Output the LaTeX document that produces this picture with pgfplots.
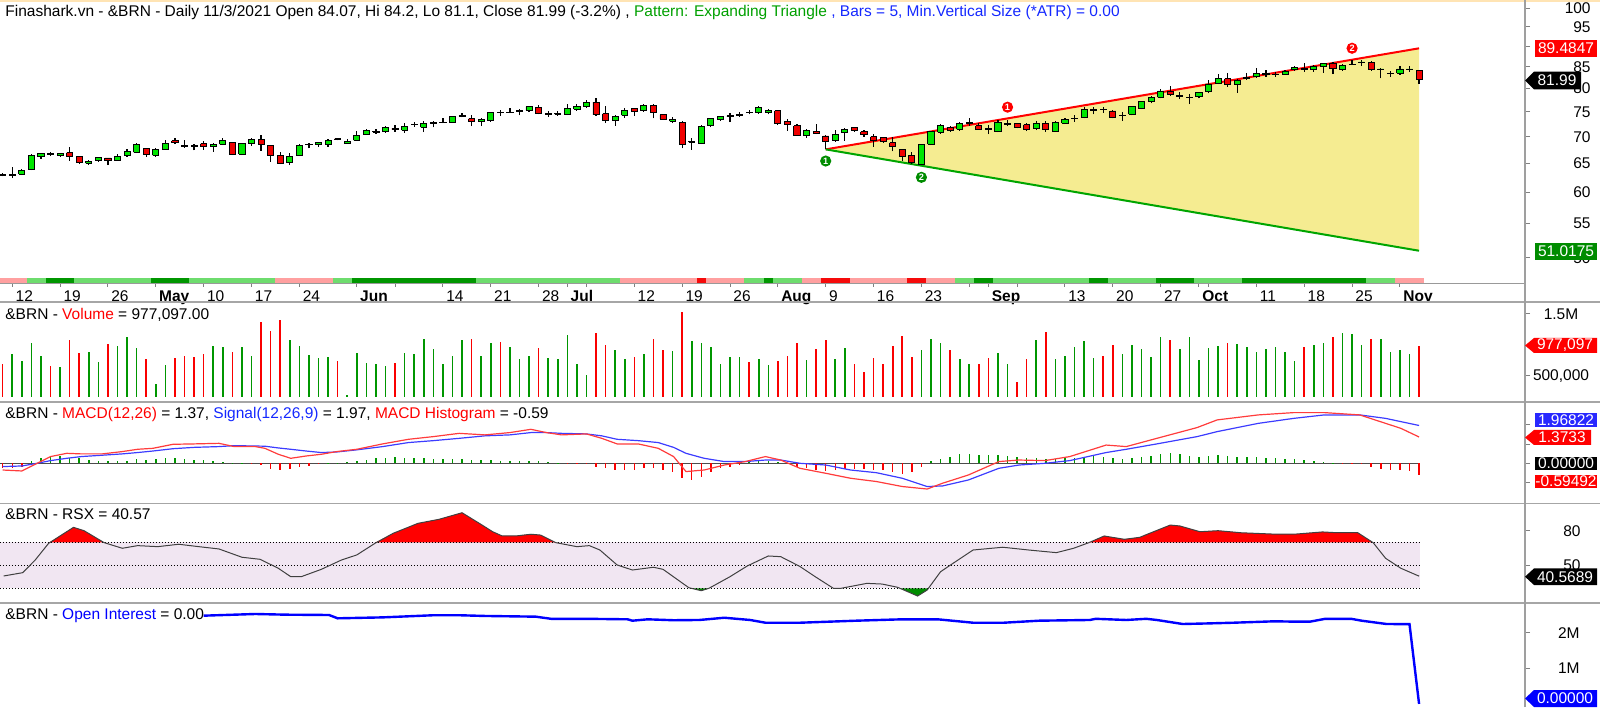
\documentclass[border=0pt]{standalone}
\usepackage{pgfplots}
\pgfplotsset{compat=1.18}
\usepackage{pgfplotstable}
\usepackage{fontspec}
\setmainfont{Liberation Sans}
\newcommand\lbl{\fontsize{7.75}{9}\selectfont}
\definecolor{upc}{RGB}{0,230,0}
\definecolor{dnc}{RGB}{240,0,0}
\definecolor{vgreen}{RGB}{0,150,0}
\definecolor{vred}{RGB}{250,0,0}
\definecolor{yel}{RGB}{245,236,145}
\definecolor{triG}{RGB}{0,165,0}
\definecolor{pinkc}{RGB}{255,160,160}
\definecolor{redc}{RGB}{245,10,10}
\definecolor{lgc}{RGB}{110,220,110}
\definecolor{dgc}{RGB}{0,150,0}
\definecolor{macdr}{RGB}{255,60,60}
\definecolor{macdb}{RGB}{60,60,255}
\definecolor{lav}{RGB}{241,230,242}
\definecolor{rsxg}{RGB}{0,140,0}
\definecolor{oiblue}{RGB}{0,0,255}
\definecolor{ptgreen}{RGB}{0,160,0}
\definecolor{ptblue}{RGB}{20,40,255}
\definecolor{tagblue}{RGB}{40,40,255}
\definecolor{taggreen}{RGB}{0,140,0}

\pgfplotstableread{
i o h l c v
0 63.1 63.3 62.7 62.9 694000
1 62.95 64.3 62.4 63.0 850000
2 63.1 64.1 62.95 63.7 742000
3 64.0 66.7 63.8 66.4 1027000
4 66.2 66.9 65.9 66.8 823000
5 66.75 67.1 66.4 66.65 661000
6 66.5 67.0 66.2 66.9 650000
7 67.0 68.1 65.5 66.3 1080000
8 66.2 66.3 64.9 65.1 876000
9 65.0 65.7 64.7 65.45 882000
10 65.5 66.2 65.3 66.05 721000
11 66.0 66.05 64.7 65.6 1010000
12 65.6 66.75 65.5 66.35 989000
13 66.4 67.6 66.2 67.2 1124000
14 67.05 68.9 66.9 68.55 947000
15 67.8 67.9 66.2 66.6 769000
16 66.5 67.8 66.2 67.6 371000
17 67.6 69.35 67.5 68.8 683000
18 69.25 69.8 68.6 68.86 790000
19 68.4 69.35 67.9 68.06 818000
20 68.25 68.55 67.4 68.15 806000
21 68.7 69.15 67.5 68.1 850000
22 68.1 68.85 67.15 68.6 984000
23 68.55 69.8 68.4 69.25 973000
24 68.9 69.05 66.55 66.7 887000
25 66.7 68.9 66.55 68.7 963000
26 68.7 69.7 68.25 69.45 823000
27 69.5 70.4 67.35 68.6 1366000
28 68.35 68.45 65.3 66.55 1226000
29 66.55 67.05 64.9 65.0 1403000
30 65.1 66.9 64.7 66.35 1081000
31 66.5 68.6 66.4 68.4 989000
32 68.45 68.9 67.8 68.55 839000
33 68.5 69.05 68.05 68.85 785000
34 68.55 69.5 68.1 69.25 801000
35 69.65 69.85 69.3 69.55 742000
36 68.75 69.5 68.7 69.1 189000
37 69.3 71.2 69.25 70.2 866000
38 70.5 71.45 70.35 71.2 715000
39 70.95 71.6 70.55 71.05 694000
40 71.0 72.1 70.75 71.85 667000
41 71.7 72.3 71.0 71.35 710000
42 71.3 72.7 70.75 72.1 866000
43 72.35 72.85 71.95 72.45 855000
44 71.85 73.1 70.9 72.6 1097000
45 72.65 73.2 71.85 72.75 935000
46 72.8 73.7 72.7 72.9 694000
47 72.85 74.25 72.85 74.05 823000
48 74.15 74.8 73.9 74.25 1086000
49 73.6 74.3 72.1 72.95 1100000
50 72.95 73.7 72.1 73.5 823000
51 73.2 75.0 73.0 74.9 1032000
52 74.9 75.4 74.2 74.8 1054000
53 74.8 75.9 74.75 74.9 963000
54 75.15 75.65 74.3 75.25 779000
55 75.4 76.3 74.95 76.1 823000
56 76.0 76.5 74.5 74.6 947000
57 74.55 75.3 74.0 74.65 790000
58 74.55 75.3 74.2 74.7 769000
59 74.5 76.65 74.35 75.75 1156000
60 75.55 76.65 75.2 76.25 694000
61 76.1 77.55 75.8 77.1 511000
62 77.1 77.95 74.2 74.4 1189000
63 74.6 76.2 72.7 73.2 1005000
64 73.35 74.3 72.2 74.0 919000
65 74.3 75.75 73.8 75.4 769000
66 75.7 75.75 74.2 75.1 806000
67 75.25 76.65 75.0 76.4 855000
68 76.3 76.6 73.7 74.85 1097000
69 74.4 74.6 73.35 73.5 914000
70 73.1 73.9 72.7 73.5 903000
71 72.8 73.2 67.8 68.6 1527000
72 69.0 69.7 67.5 69.1 1060000
73 68.7 72.3 68.6 72.1 1032000
74 72.2 73.7 71.85 73.6 963000
75 73.5 74.2 73.1 74.0 694000
76 74.0 74.7 72.9 74.25 806000
77 74.35 74.9 74.0 74.45 812000
78 74.95 75.4 74.5 74.85 726000
79 74.8 76.25 74.6 76.0 779000
80 74.8 75.6 74.5 75.4 683000
81 75.25 75.4 72.3 72.7 747000
82 73.0 73.5 71.2 72.5 823000
83 72.15 72.5 70.15 70.35 1027000
84 70.2 71.45 69.8 71.3 758000
85 71.0 72.5 70.5 70.7 935000
86 70.15 70.35 67.6 69.05 1081000
87 69.2 71.35 69.05 70.5 774000
88 70.8 71.8 69.25 71.45 952000
89 71.8 72.0 70.95 71.3 698000
90 71.0 71.35 70.0 70.5 565000
91 70.0 70.5 68.1 69.3 795000
92 69.8 70.0 68.85 69.05 688000
93 68.85 70.0 67.2 68.1 979000
94 67.5 67.6 65.5 66.35 1150000
95 66.55 67.05 64.9 65.15 812000
96 64.85 68.7 64.7 68.6 919000
97 68.55 71.1 68.4 71.0 1092000
98 70.95 72.45 70.6 72.2 1037000
99 71.85 72.1 70.95 71.2 919000
100 71.45 72.9 71.2 72.7 769000
101 72.65 73.7 72.1 72.75 688000
102 72.15 72.7 71.35 71.5 688000
103 71.6 72.3 70.5 71.5 785000
104 71.0 73.35 70.9 72.8 866000
105 72.5 73.35 72.1 72.6 688000
106 72.55 72.7 71.65 71.9 403000
107 72.35 72.7 71.1 71.45 769000
108 71.55 73.05 71.3 72.7 1081000
109 72.7 73.2 70.95 71.35 1215000
110 71.1 73.05 70.95 72.8 779000
111 72.7 73.8 72.5 73.5 823000
112 73.65 74.35 73.0 73.75 968000
113 73.8 76.1 73.7 75.55 1065000
114 75.35 76.1 74.5 75.45 795000
115 75.6 76.1 74.8 75.45 823000
116 75.2 75.4 73.7 73.8 1005000
117 74.25 74.9 73.2 74.35 855000
118 74.5 76.3 74.3 76.1 1005000
119 75.75 77.4 75.6 77.15 935000
120 77.3 78.4 76.8 78.0 812000
121 78.1 79.95 77.9 79.5 1134000
122 79.5 80.7 78.45 78.8 1081000
123 78.4 79.2 77.7 78.5 941000
124 78.05 78.9 76.65 78.15 1134000
125 78.25 79.3 77.9 79.1 758000
126 79.3 81.95 79.0 81.05 952000
127 81.2 83.3 81.0 82.3 979000
128 82.2 83.5 80.4 81.05 1032000
129 80.9 82.1 79.1 81.8 1016000
130 82.4 83.5 81.95 82.5 963000
131 82.7 84.7 82.45 83.5 892000
132 83.25 84.3 82.7 83.35 935000
133 83.15 83.9 82.7 83.25 963000
134 83.3 84.3 83.1 84.0 882000
135 84.3 85.2 84.1 84.9 742000
136 84.55 86.0 83.85 84.3 963000
137 84.3 85.4 83.85 85.0 995000
138 85.0 86.0 83.6 85.8 1037000
139 85.8 86.1 83.3 84.65 1129000
140 84.4 85.6 84.1 85.4 1189000
141 85.55 86.6 85.4 85.65 1177000
142 86.05 86.6 85.3 86.15 995000
143 86.1 86.4 84.1 84.45 1097000
144 84.4 84.7 82.3 84.5 1092000
145 83.45 84.1 82.7 83.55 892000
146 83.5 85.1 83.1 84.5 919000
147 84.4 85.2 83.85 84.5 855000
148 84.07 84.2 81.1 81.99 977097
}\ohlc

\pgfplotstableread{
i h
0 -0.25
1 -0.25
2 -0.2
3 0.1
4 0.25
5 0.35
6 0.4
7 0.3
8 0.25
9 0.15
10 0.1
11 0.1
12 0.1
13 0.1
14 0.2
15 0.15
16 0.2
17 0.25
18 0.25
19 0.2
20 0.15
21 0.15
22 0.1
23 0.05
24 0.02
25 0.01
26 -0.02
27 -0.1
28 -0.3
29 -0.35
30 -0.3
31 -0.2
32 -0.15
33 -0.05
34 0.01
35 0.02
36 0.05
37 0.1
38 0.17
39 0.26
40 0.3
41 0.31
42 0.3
43 0.27
44 0.26
45 0.22
46 0.2
47 0.2
48 0.2
49 0.17
50 0.15
51 0.15
52 0.14
53 0.14
54 0.14
55 0.12
56 0.1
57 0.05
58 0.01
59 -0.02
60 -0.02
61 -0.05
62 -0.2
63 -0.26
64 -0.35
65 -0.35
66 -0.35
67 -0.26
68 -0.26
69 -0.35
70 -0.43
71 -0.78
72 -0.87
73 -0.69
74 -0.43
75 -0.26
76 -0.17
77 -0.1
78 0.05
79 0.1
80 0.1
81 0.05
82 -0.05
83 -0.2
84 -0.25
85 -0.35
86 -0.4
87 -0.35
88 -0.3
89 -0.3
90 -0.3
91 -0.35
92 -0.35
93 -0.45
94 -0.55
95 -0.45
96 -0.2
97 0.1
98 0.2
99 0.35
100 0.5
101 0.5
102 0.45
103 0.45
104 0.45
105 0.4
106 0.35
107 0.3
108 0.25
109 0.2
110 0.2
111 0.25
112 0.3
113 0.35
114 0.4
115 0.35
116 0.25
117 0.2
118 0.25
119 0.35
120 0.4
121 0.5
122 0.55
123 0.5
124 0.4
125 0.35
126 0.4
127 0.45
128 0.4
129 0.35
130 0.35
131 0.35
132 0.3
133 0.25
134 0.2
135 0.2
136 0.15
137 0.12
138 0.08
139 0.02
140 -0.01
141 -0.02
142 -0.05
143 -0.2
144 -0.3
145 -0.35
146 -0.35
147 -0.4
148 -0.59
}\hist

\pgfplotstableread{
x y
0 -0.35
2 -0.4
3.6 0
5 0.35
6.7 0.52
8.2 0.49
10.4 0.49
12.5 0.61
14.1 0.73
15.7 0.78
17.8 0.99
20 1.01
22.6 1.04
24.2 0.87
26.4 0.87
27.4 0.78
28.8 0.47
30.1 0.26
31.7 0.38
33.3 0.47
34.9 0.61
37 0.73
39.7 1.01
42.4 1.25
45 1.39
47.7 1.56
50.4 1.48
53 1.6
55.2 1.77
56.8 1.6
58.4 1.48
61 1.53
62.6 1.30
64.2 1.01
66.4 1.01
68.5 0.78
70.1 0.35
71.4 -0.43
73.3 -0.35
75.4 -0.09
77.6 0.09
79.7 0.35
81.3 0.17
83.3 -0.26
86 -0.52
88.6 -0.78
91.3 -0.95
94 -1.21
96.6 -1.34
98.2 -1.04
100.9 -0.61
104.1 0.09
106.2 0.17
108.9 0.14
111.5 0.35
115.3 0.95
117.4 0.87
120.6 1.30
124.8 1.86
126.9 2.26
131.2 2.52
134.9 2.64
138.1 2.64
141.8 2.52
144.5 2.08
146.1 1.82
148 1.37
}\macd

\pgfplotstableread{
x y
0 -0.17
2 -0.14
3.6 0
5 0.14
6.7 0.26
8.2 0.35
10.4 0.42
12.5 0.49
14.1 0.56
15.7 0.64
17.8 0.76
20 0.83
22.6 0.87
24.2 0.92
26.4 0.9
27.4 0.89
28.8 0.8
30.1 0.73
31.7 0.64
33.3 0.56
34.9 0.59
37 0.7
39.7 0.87
42.4 1.08
45 1.18
47.7 1.30
50.4 1.43
53 1.48
55.2 1.6
56.8 1.6
58.4 1.56
61 1.53
62.6 1.43
64.2 1.25
66.4 1.18
68.5 1.08
70.1 0.83
71.4 0.52
73.3 0.26
75.4 0.09
77.6 0.09
79.7 0.17
81.3 0.17
83.3 0.0
86 -0.09
88.6 -0.35
91.3 -0.49
94 -0.78
96.6 -1.21
98.2 -1.18
100.9 -0.87
104.1 -0.26
106.2 -0.09
108.9 0
111.5 0.14
115.3 0.56
117.4 0.73
120.6 1.01
124.8 1.39
126.9 1.65
131.2 2.08
134.9 2.34
138.1 2.52
141.8 2.52
144.5 2.34
146.1 2.17
148 1.97
}\signal

\pgfplotstableread{
x y
0.1 40.7
2.1 43.6
3.4 54.6
4.8 69.1
7.4 83.0
8.5 80.1
10.6 69.7
12.5 64.8
14.1 67.1
16.2 66.2
18.4 68.3
20.5 66.2
22.6 64.2
25 57.0
26.9 55.2
28.8 47.4
30.1 40.1
31.2 40.1
33.3 46.5
35.4 54.6
37 59.0
38.9 69.1
40.8 77.8
43.4 86.5
45.6 90.0
48 95.7
49.8 86.5
51.2 79.2
52.2 75.5
53.6 75.5
55.2 77.0
56.2 76.3
57.8 69.7
60 66.2
61.3 67.1
62.4 63.3
64.2 50.3
65.8 45.9
68 48.3
69 46.5
71.7 30.5
73 27.9
73.8 30.0
76 40.1
77.8 49.4
80 58.1
81.3 57.5
83.3 49.0
84.9 40.1
86.8 30.0
87.6 30.0
90.3 34.3
91.9 33.7
93.5 30.9
95.6 23.3
96.6 28.5
98 44.4
99.3 51.7
101.4 63.3
104.5 65.7
107.2 63.3
110.1 61.0
111.9 64.8
113.5 69.7
115.1 75.5
117.2 72.6
118.8 74.3
122 85.0
123 84.2
125.1 79.2
127 80.1
129.4 78.3
132.6 77.2
135.2 77.2
137.9 79.0
139.5 78.3
141.6 78.3
143.2 69.7
144.5 56.1
146.1 47.4
148 40.57
}\rsx

\pgfplotstableread{
x y
21 2478000
26.4 2525000
29.6 2506000
34.1 2497000
35 2404000
39.7 2430000
45 2490000
47.7 2490000
50.4 2470000
55.7 2450000
57.3 2390000
61 2390000
65.3 2376000
65.8 2337000
67.4 2376000
70.1 2350000
72.8 2357000
75.4 2420000
78.1 2357000
79.7 2280000
83.3 2280000
89.2 2337000
94 2376000
97.7 2376000
101.4 2280000
104.6 2280000
108.3 2337000
113.6 2357000
114.2 2390000
117.4 2357000
119.5 2390000
120.6 2357000
123.3 2244000
125.9 2260000
128.6 2280000
132.9 2320000
135 2310000
136.6 2310000
138.2 2390000
140.9 2390000
142 2337000
144.6 2244000
147 2240000
148 0
}\oi

\pgfplotsset{
  base/.style={scale only axis, width=762.5pt, xmin=-0.28, xmax=159.07,
    anchor=south west, hide x axis, axis y line*=right,
    y axis line style={draw=none}, tick align=outside, major tick length=2.5pt,
    ytick style={gray, line width=0.5pt}, scaled y ticks=false,
    yticklabel style={anchor=east, inner sep=0pt, font=\lbl},
    /pgf/number format/assume math mode=true}
}
\newcommand\seg[3]{\addplot[fill=#1, draw=none] coordinates {(#2,0)(#3,0)(#3,1)(#2,1)};}

\begin{document}
\begin{tikzpicture}
\path[use as bounding box] (0,0) rectangle (800pt,353.5pt);

% ---------- price panel ----------
\begin{axis}[base, at={(0pt,212pt)}, height=141.5pt, ymode=log,
  ymin=46.65, ymax=102.33,
  ytick={50,55,60,65,70,75,80,85,90,95,100},
  yticklabels={50,55,60,65,70,75,80,85,{},95,100},
  yticklabel style={xshift=30.5pt}]
\addplot[fill=yel, draw=none] coordinates {(86,67.6)(148,89.4847)(148,51.0175)(86,67.6)};
\addplot[red, line width=1pt] coordinates {(86,67.6)(148,89.4847)};
\addplot[triG, line width=1pt] coordinates {(86,67.6)(148,51.0175)};
\pgfplotsforeachungrouped \k in {0,...,148}{%
  \pgfplotstablegetelem{\k}{o}\of\ohlc \let\vo\pgfplotsretval
  \pgfplotstablegetelem{\k}{h}\of\ohlc \let\vh\pgfplotsretval
  \pgfplotstablegetelem{\k}{l}\of\ohlc \let\vl\pgfplotsretval
  \pgfplotstablegetelem{\k}{c}\of\ohlc \let\vc\pgfplotsretval
  \pgfmathsetmacro\xa{\k-0.32}\pgfmathsetmacro\xb{\k+0.32}%
  \ifdim\vc pt>\vo pt \def\cc{upc}\else\def\cc{dnc}\fi
  \edef\tmp{\noexpand\addplot[draw=black, line width=0.6pt] coordinates {(\k,\vl)(\k,\vh)};%
    \noexpand\addplot[fill=\cc, draw=black, line width=0.45pt] coordinates {(\xa,\vo)(\xb,\vo)(\xb,\vc)(\xa,\vc)(\xa,\vo)};}%
  \tmp
}
\node[circle, fill=red, text=white, inner sep=0pt, minimum size=5.6pt, font=\fontsize{4.6}{5}\selectfont\bfseries] at (axis cs:105,76.0) {1};
\node[circle, fill=red, text=white, inner sep=0pt, minimum size=5.6pt, font=\fontsize{4.6}{5}\selectfont\bfseries] at (axis cs:141,89.5) {2};
\node[circle, fill=rsxg, text=white, inner sep=0pt, minimum size=5.6pt, font=\fontsize{4.6}{5}\selectfont\bfseries] at (axis cs:86,65.45) {1};
\node[circle, fill=rsxg, text=white, inner sep=0pt, minimum size=5.6pt, font=\fontsize{4.6}{5}\selectfont\bfseries] at (axis cs:96,62.55) {2};
\end{axis}

% ---------- date strip ----------
\begin{axis}[scale only axis, width=762.5pt, height=2.5pt, at={(0pt,212pt)}, anchor=south west,
  xmin=-0.28, xmax=159.07, ymin=0, ymax=1, hide y axis, axis x line*=bottom,
  x axis line style={draw=none}, tick align=outside, major tick length=2pt,
  xtick style={gray, line width=0.5pt},
  xtick={1,6,11,16,21,26,31,37,41,46,51,56,59,61,66,71,76,81,86,91,96,101,103,106,111,116,121,125,126,131,136,141,146},
  xticklabels={12,19,26,\textbf{May},10,17,24,\textbf{Jun},{},14,21,28,\textbf{Jul},{},12,19,26,\textbf{Aug},9,16,23,{},\textbf{Sep},{},13,20,27,\textbf{Oct},{},11,18,25,\textbf{Nov}},
  xticklabel style={anchor=base west, inner sep=0pt, xshift=1.5pt, yshift=-7.35pt, font=\lbl}]
\seg{pinkc}{-0.5}{2.5}\seg{lgc}{2.5}{4.5}\seg{dgc}{4.5}{7.5}\seg{lgc}{7.5}{15.5}
\seg{dgc}{15.5}{19.5}\seg{lgc}{19.5}{28.5}\seg{pinkc}{28.5}{34.5}\seg{lgc}{34.5}{36.5}
\seg{dgc}{36.5}{49.5}\seg{lgc}{49.5}{64.5}\seg{pinkc}{64.5}{72.5}\seg{redc}{72.5}{73.5}
\seg{pinkc}{73.5}{77.5}\seg{lgc}{77.5}{79.5}\seg{dgc}{79.5}{80.5}\seg{lgc}{80.5}{83.5}
\seg{pinkc}{83.5}{85.5}\seg{redc}{85.5}{88.5}\seg{pinkc}{88.5}{94.5}\seg{redc}{94.5}{96.5}
\seg{pinkc}{96.5}{99.5}\seg{lgc}{99.5}{101.5}\seg{dgc}{101.5}{103.5}\seg{lgc}{103.5}{113.5}
\seg{dgc}{113.5}{115.5}\seg{lgc}{115.5}{120.5}\seg{dgc}{120.5}{124.5}\seg{lgc}{124.5}{129.5}
\seg{dgc}{129.5}{142.5}\seg{lgc}{142.5}{145.5}\seg{pinkc}{145.5}{148.5}
\end{axis}

% ---------- volume ----------
\begin{axis}[base, at={(0pt,155pt)}, height=47.5pt, ymin=161300, ymax=1693500,
  ytick={500000,1500000}, yticklabels={{500,000},{1.5M}},
  yticklabel style={anchor=center, xshift=15.5pt}]
\addplot[ycomb, vgreen, line width=0.8pt, restrict expr to domain={\thisrow{c}-\thisrow{o}}{0:100}] table[x=i,y=v]{\ohlc};
\addplot[ycomb, vred, line width=0.8pt, restrict expr to domain={\thisrow{c}-\thisrow{o}}{-100:0}] table[x=i,y=v]{\ohlc};
\end{axis}

% ---------- MACD ----------
\begin{axis}[base, at={(0pt,102pt)}, height=50.5pt, ymin=-2.068, ymax=3.193,
  ytick={-1,0,1,2}, yticklabels={}]
\addplot[black!70, line width=0.6pt] coordinates {(-0.3,0)(148,0)};
\addplot[ycomb, vgreen, line width=0.75pt, restrict y to domain=0:5] table[x=i,y=h]{\hist};
\addplot[ycomb, vred, line width=0.75pt, restrict y to domain=-5:0] table[x=i,y=h]{\hist};
\addplot[macdb, line width=0.6pt] table{\signal};
\addplot[macdr, line width=0.6pt] table{\macd};
\end{axis}

% ---------- RSX ----------
\begin{axis}[base, at={(0pt,52pt)}, height=50pt, ymin=17.22, ymax=104.17,
  ytick={50,80}, yticklabels={50,80}, yticklabel style={xshift=25.5pt}]
\addplot[fill=lav, draw=none] coordinates {(-0.3,30)(148.1,30)(148.1,70)(-0.3,70)};
\addplot[fill=red, draw=none] coordinates {(4.9,70)(7.4,83)(8.5,80.1)(10.5,70)};
\addplot[fill=red, draw=none] coordinates {(39.0,70)(40.8,77.8)(43.4,86.5)(45.6,90)(48,95.7)(49.8,86.5)(51.2,79.2)(52.2,75.5)(53.6,75.5)(55.2,77)(56.2,76.3)(57.7,70)};
\addplot[fill=red, draw=none] coordinates {(113.6,70)(115.1,75.5)(117.2,72.6)(118.8,74.3)(122,85)(123,84.2)(125.1,79.2)(127,80.1)(129.4,78.3)(132.6,77.2)(135.2,77.2)(137.9,79)(139.5,78.3)(141.6,78.3)(143.1,70)};
\addplot[fill=rsxg, draw=none] coordinates {(72.0,30)(73,27.9)(73.8,30)};
\addplot[fill=rsxg, draw=none] coordinates {(93.8,30)(95.6,23.3)(96.6,28.5)(96.8,30)};
\addplot[black, line width=0.5pt, dash pattern=on 0.5pt off 1pt] coordinates {(-0.3,70)(148.1,70)};
\addplot[black, line width=0.5pt, dash pattern=on 0.5pt off 1pt] coordinates {(-0.3,50)(148.1,50)};
\addplot[black, line width=0.5pt, dash pattern=on 0.5pt off 1pt] coordinates {(-0.3,30)(148.1,30)};
\addplot[black!75, line width=0.5pt] table{\rsx};
\end{axis}

% ---------- Open interest ----------
\begin{axis}[base, at={(0pt,0pt)}, height=52pt, ymin=-87000, ymax=2834000,
  ytick={1000000,2000000}, yticklabels={1M,2M}, yticklabel style={xshift=25pt}]
\addplot[oiblue, line width=1.2pt] table{\oi};
\end{axis}

% ---------- frame, labels, tags (pixel frame) ----------
\begin{scope}[x=0.5pt,y=0.5pt]
\draw[color={rgb,255:red,255;green,228;blue,180}, line width=1.5pt] (0,706.5) -- (1600,706.5);
\foreach \yy in {302,402,503.5,603}{\draw[gray!70, line width=0.8pt] (0,707-\yy) -- (1600,707-\yy);}
\draw[gray!80, line width=0.4pt] (0,424) -- (1525,424);
\draw[gray!75, line width=0.7pt] (1525,0) -- (1525,707);
\node[anchor=base west, inner sep=0pt, font=\lbl] at (5,690.3) {Finashark.vn - \&BRN - Daily 11/3/2021 Open 84.07, Hi 84.2, Lo 81.1, Close 81.99 (-3.2\%) , \textcolor{ptgreen}{Pattern: Expanding Triangle} \textcolor{ptblue}{, Bars = 5, Min.Vertical Size (*ATR) = 0.00}};
\node[anchor=base west, inner sep=0pt, font=\lbl] at (5,387.7) {\&BRN - \textcolor{red}{Volume} = 977,097.00};
\node[anchor=base west, inner sep=0pt, font=\lbl] at (5,288.5) {\&BRN - \textcolor{red}{MACD(12,26)} = 1.37, \textcolor{ptblue}{Signal(12,26,9)} = 1.97, \textcolor{red}{MACD Histogram} = -0.59};
\node[anchor=base west, inner sep=0pt, font=\lbl] at (5,187.7) {\&BRN - RSX = 40.57};
\node[anchor=base west, inner sep=0pt, font=\lbl] at (5,87.7) {\&BRN - \textcolor{oiblue}{Open Interest} = 0.00};
\newcommand\boxtag[4]{\fill[#1] (1535,#2) rectangle (1597,#3); \node[text=white, font=\lbl, inner sep=0pt] at (1566,{(#2+#3)/2}) {#4};}
\newcommand\arrtag[5]{\fill[#1] (1525,#2) -- (1534,{#2+#4}) -- (#3,{#2+#4}) -- (#3,{#2-#4}) -- (1534,{#2-#4}) -- cycle; \node[text=white, font=\lbl, inner sep=0pt] at ({(1533+#3)/2},#2) {#5};}
\boxtag{red}{650.3}{667}{89.4847}
\arrtag{black}{626.5}{1581}{8.8}{81.99}
\boxtag{taggreen}{447}{464}{51.0175}
\arrtag{red}{361.5}{1597}{7.5}{977,097}
\boxtag{tagblue}{280}{294}{1.96822}
\arrtag{red}{269.5}{1591}{7.5}{1.3733}
\boxtag{black}{237}{250.3}{0.00000}
\boxtag{red}{218.7}{232}{-0.59492}
\arrtag{black}{130.3}{1597}{8.3}{40.5689}
\arrtag{oiblue}{8.5}{1597}{8.5}{0.00000}
\end{scope}
\end{tikzpicture}
\end{document}
